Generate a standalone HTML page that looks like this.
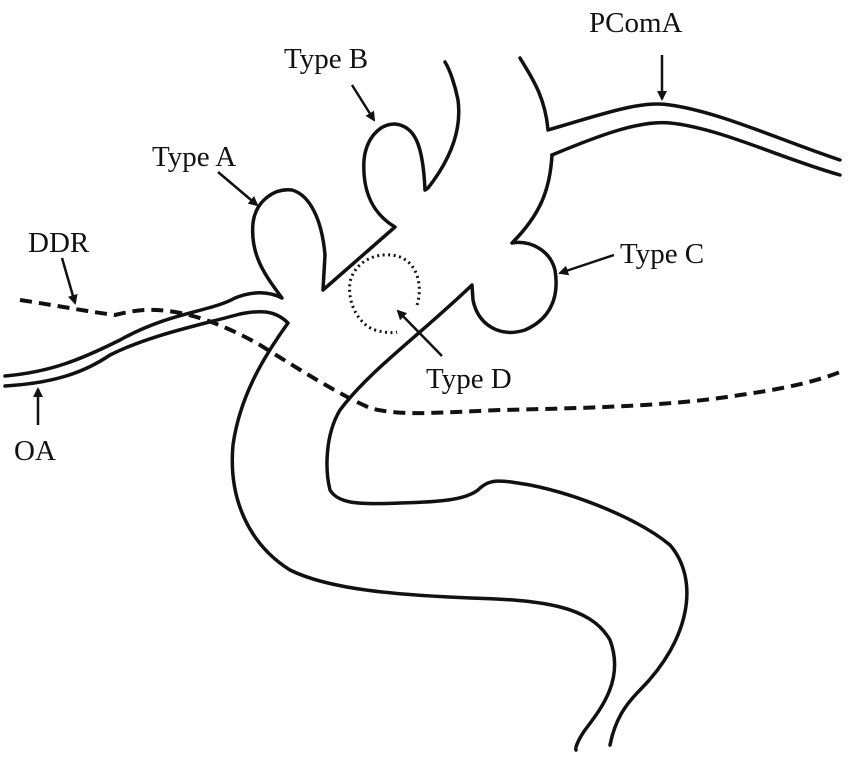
<!DOCTYPE html><html><head><style>body{margin:0;background:#fff}svg{display:block}text{font-family:"Liberation Serif",serif;font-size:29px;fill:#111}</style></head><body>
<svg width="850" height="763" viewBox="0 0 850 763" xmlns="http://www.w3.org/2000/svg">
<defs><marker id="a" markerWidth="10" markerHeight="10" refX="8" refY="5" orient="auto" markerUnits="userSpaceOnUse"><path d="M0,0L10,5L0,10z" fill="#111"/></marker></defs>
<g fill="none" stroke="#111" stroke-width="3.5" stroke-linejoin="round" stroke-linecap="round">
<path d="M5,376 C50,372 80,360 120,340 C170,312 210,312 235,298 C255,290 270,292 282,298 C265,275 250,255 253,223 C256,200 275,188 292,190 C310,195 322,220 325,255 L323,290 L395,227 C375,215 362,195 364,160 C366,140 378,124 395,124 C415,126 423,145 425,190 L428,188 C450,160 462,130 458,100 C455,85 450,70 445,62"/>
<path d="M5,386 C55,383 85,372 110,355 C150,335 200,325 240,314 C260,310 275,310 288,323 C265,355 240,395 233,445 C228,500 250,545 290,570 C330,590 400,595 470,598 C540,600 590,605 610,640 C625,680 600,710 585,730 C578,740 575,748 576,750"/>
<path d="M520,58 C530,75 545,95 548,130 C600,115 640,100 670,105 C720,112 780,140 840,160"/>
<path d="M552,155 C600,135 640,120 670,123 C720,128 780,158 840,175"/>
<path d="M552,155 C550,190 540,215 512,243 C530,240 550,250 555,270 C560,300 548,320 525,330 C500,338 478,325 473,300 L472,285 C420,335 370,370 340,410 C325,435 325,470 330,490 C338,503 355,505 400,503 C440,502 465,500 478,490 C490,478 500,480 530,485 C580,495 640,520 670,545 C700,580 690,640 640,690 C625,705 615,720 610,745"/>
</g>
<path d="M20,300 C60,306 90,312 115,315 C135,310 150,308 175,312 C200,316 230,328 260,345 C300,370 340,395 370,408 C400,416 430,413 500,410 C600,408 680,405 740,395 C790,388 820,380 840,372" fill="none" stroke="#111" stroke-width="4" stroke-dasharray="12,7"/>
<path d="M417,305 C422,290 420,265 400,257 C380,250 355,260 350,282 C347,305 360,325 375,330 C385,333 393,333 397,332" fill="none" stroke="#111" stroke-width="3" stroke-dasharray="2,3.5"/>
<g stroke="#111" stroke-width="2.5" marker-end="url(#a)">
<line x1="352" y1="85" x2="374" y2="120"/>
<line x1="218" y1="172" x2="257" y2="205"/>
<line x1="62" y1="258" x2="75" y2="303"/>
<line x1="38" y1="425" x2="38" y2="389"/>
<line x1="662" y1="55" x2="662" y2="99"/>
<line x1="614" y1="255" x2="560" y2="273"/>
<line x1="442" y1="356" x2="398" y2="311"/>
</g>
<text x="284" y="68">Type B</text>
<text x="152" y="166">Type A</text>
<text x="28" y="252">DDR</text>
<text x="14" y="460">OA</text>
<text x="589" y="32">PComA</text>
<text x="620" y="263">Type C</text>
<text x="426" y="388">Type D</text>
</svg></body></html>
